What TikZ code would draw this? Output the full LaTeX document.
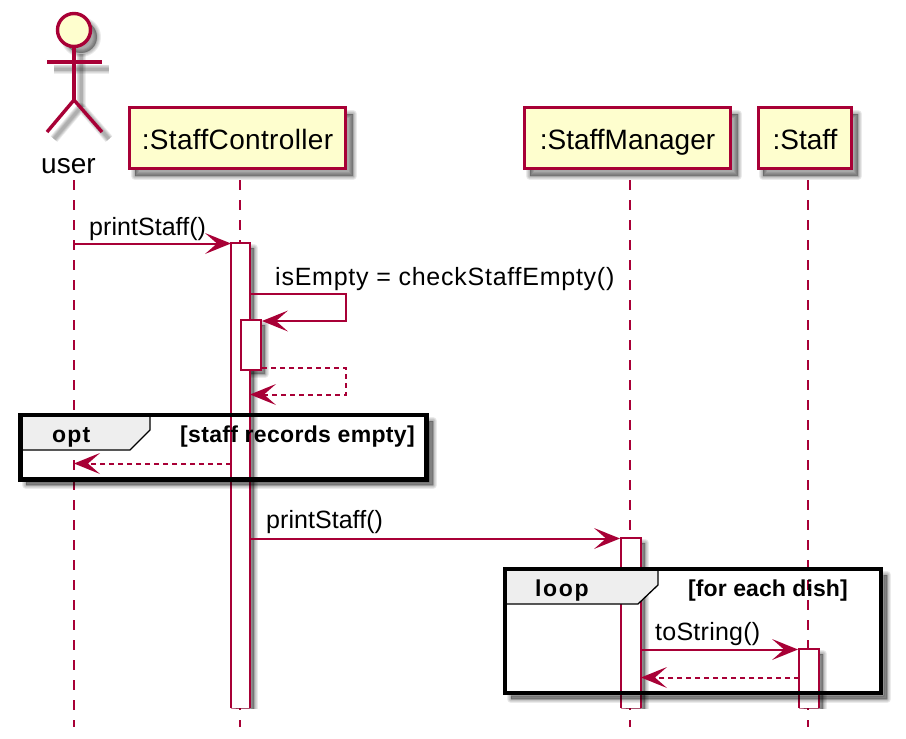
\documentclass[tikz,border=0pt]{standalone}
\usepackage{fontspec}
\setmainfont{Liberation Sans}
\usetikzlibrary{arrows.meta}
\definecolor{umlred}{HTML}{A80036}
\definecolor{umlfill}{HTML}{FEFECE}
\definecolor{tabfill}{HTML}{EEEEEE}
\tikzset{
  lifeline/.style={draw=umlred,line width=2pt,dash pattern=on 10pt off 10pt},
  partbox/.style={draw=umlred,fill=umlfill,line width=3pt,inner sep=0pt,minimum height=61pt,text height=28pt,text depth=6pt,font=\fontsize{28}{32}\selectfont},
  actorline/.style={draw=umlred,line width=3.4pt},
  actbox/.style={draw=umlred,fill=white,line width=2.2pt},
  barend/.style={draw=umlred,draw opacity=.5,line width=1pt},
  msg/.style={draw=umlred,line width=2pt,-{Stealth[length=26pt,width=21pt,inset=12pt,line width=0pt]}},
  ret/.style={msg,dash pattern=on 5pt off 4pt},
  lbl/.style={anchor=base west,inner sep=0pt,font=\fontsize{25}{30}\selectfont},
  actorlbl/.style={anchor=base west,inner sep=0pt,font=\fontsize{28}{32}\selectfont},
  grp/.style={anchor=base west,inner sep=0pt,font=\bfseries\fontsize{23}{28}\selectfont},
  frameline/.style={draw=black,line width=4.2pt,miter limit=10},
  tabshape/.style={draw=black,fill=tabfill,line width=1.3pt},
  soft/.style={fill=black,draw=black,fill opacity=.08,draw opacity=.08,line join=round},
  softl/.style={draw=black,draw opacity=.07,line join=round}
}
% soft shadows: the argument is a path
\newcommand{\softshadow}[1]{%
  \foreach \w in {8,6,4,2,0.1}{\path[soft,line width=\w pt] #1;}%
}
\newcommand{\softline}[1]{%
  \foreach \w in {9,7.5,6,4.5,3}{\path[softl,line width=\w pt] #1;}%
}
\begin{document}
\begin{tikzpicture}[x=1pt,y=-1pt]
\useasboundingbox[fill=white] (0,0) rectangle (906,739);

% shadows of the head objects
\softshadow{(81,37) circle (16)}
\softline{(54,69) -- (109,69)}
\softline{(81,54) -- (81,107)}
\softline{(54,139) -- (81,107) -- (109,139)}
\softshadow{(135,114) rectangle (353,176)}
\softshadow{(530,114) rectangle (738,176)}
\softshadow{(763,114) rectangle (858,176)}

% participants
\node[partbox,minimum width=216pt] (ctrl) at (237.5,138) {\addfontfeature{LetterSpace=1.2}:StaffController};
\node[partbox,minimum width=206pt] (mgr) at (627.5,138) {:StaffManager};
\node[partbox,minimum width=93pt] (stf) at (805,138) {:Staff};

% actor
\draw[actorline,fill=umlfill] (74,30) circle (16.5);
\coordinate (neck) at (74,47);
\coordinate (hip) at (74,100);
\coordinate (armL) at (47,62);
\coordinate (armR) at (102,62);
\coordinate (legL) at (47,132);
\coordinate (legR) at (102,132);
\draw[actorline] (neck) -- (hip);
\draw[actorline] (armL) -- (armR);
\draw[actorline] (legL) -- (hip) -- (legR);
\node[actorlbl] (user) at (41,173) {user};

% lifelines
\coordinate (uTop) at (74,180);
\coordinate (uBot) at (74,727);
\coordinate (cTop) at (240,180);
\coordinate (cBot) at (240,727);
\coordinate (mTop) at (630,180);
\coordinate (mBot) at (630,727);
\coordinate (sTop) at (808,180);
\coordinate (sBot) at (808,727);
\draw[lifeline] (uTop) -- (uBot);
\draw[lifeline] (cTop) -- (cBot);
\draw[lifeline] (mTop) -- (mBot);
\draw[lifeline] (sTop) -- (sBot);

% activation bars
\begin{scope}
\clip (0,0) rectangle (906,708);
\softshadow{(236,248) rectangle (254,720)}
\softshadow{(626,543) rectangle (645,720)}
\softshadow{(804,654) rectangle (823,720)}
\end{scope}
\softshadow{(246,325) rectangle (265,374)}
\path[fill=white] (231,243) rectangle (250,708);
\path[fill=white] (621,538) rectangle (641,708);
\path[fill=white] (799,649) rectangle (819,708);
\coordinate (a1a) at (231,708);
\coordinate (a1b) at (231,243);
\coordinate (a1c) at (250,243);
\coordinate (a1d) at (250,708);
\draw[barend] (a1a) -- (a1d);
\draw[actbox,fill=none] (a1a) -- (a1b) -- (a1c) -- (a1d);
\coordinate (a3a) at (621,708);
\coordinate (a3b) at (621,538);
\coordinate (a3c) at (641,538);
\coordinate (a3d) at (641,708);
\draw[barend] (a3a) -- (a3d);
\draw[actbox,fill=none] (a3a) -- (a3b) -- (a3c) -- (a3d);
\coordinate (a4a) at (799,708);
\coordinate (a4b) at (799,649);
\coordinate (a4c) at (819,649);
\coordinate (a4d) at (819,708);
\draw[barend] (a4a) -- (a4d);
\draw[actbox,fill=none] (a4a) -- (a4b) -- (a4c) -- (a4d);
\draw[actbox] (241,320) rectangle (261,370);

% messages
\coordinate (m1s) at (74,243.5);
\coordinate (m1e) at (231,243.5);
\draw[msg] (m1s) -- (m1e);
\coordinate (m2s) at (250,294);
\coordinate (m2a) at (346,294);
\coordinate (m2b) at (346,321);
\coordinate (m2e) at (262,321);
\draw[msg] (m2s) -- (m2a) -- (m2b) -- (m2e);
\coordinate (m3s) at (262,368);
\coordinate (m3a) at (346,368);
\coordinate (m3b) at (346,394.5);
\coordinate (m3e) at (250,394.5);
\draw[ret] (m3s) -- (m3a) -- (m3b) -- (m3e);
\coordinate (m4s) at (231,463.5);
\coordinate (m4e) at (74,463.5);
\draw[ret] (m4s) -- (m4e);
\coordinate (m5s) at (250,538.5);
\coordinate (m5e) at (620,538.5);
\draw[msg] (m5s) -- (m5e);
\coordinate (m6s) at (641,649.5);
\coordinate (m6e) at (798,649.5);
\draw[msg] (m6s) -- (m6e);
\coordinate (m7s) at (799,677.5);
\coordinate (m7e) at (641,677.5);
\draw[ret] (m7s) -- (m7e);

% opt frame
\softshadow{(429,421) -- (433,421) -- (433,485) -- (26,485) -- (26,481.5) -- (429,481.5) -- cycle}
\path[tabshape] (20.5,415) -- (150,415) -- (150,430) -- (130,450) -- (20.5,450) -- cycle;
\draw[frameline] (20.5,415) rectangle (426.5,479.5);

% loop frame
\softshadow{(883.5,575) -- (887,575) -- (887,699) -- (511,699) -- (511,695.5) -- (883.5,695.5) -- cycle}
\path[tabshape] (505,569) -- (658,569) -- (658,585) -- (638,604) -- (505,604) -- cycle;
\draw[frameline] (505,569) rectangle (881,693);

% labels
\node[lbl] (t1) at (89,235) {\addfontfeature{LetterSpace=0.2}printStaff()};
\node[lbl] (t2) at (275,285) {\addfontfeature{LetterSpace=3}isEmpty = checkStaffEmpty()};
\node[lbl] (t3) at (266,528) {\addfontfeature{LetterSpace=0.2}printStaff()};
\node[lbl] (t4) at (655,640) {\addfontfeature{LetterSpace=1}toString()};
\node[grp] (g1) at (52,442) {\addfontfeature{LetterSpace=5}opt};
\node[grp] (g2) at (180,442) {\addfontfeature{LetterSpace=1.4}[staff records empty]};
\node[grp] (g3) at (535,596) {\addfontfeature{LetterSpace=7}loop};
\node[grp] (g4) at (688,596) {\addfontfeature{LetterSpace=0.4}[for each dish]};
\end{tikzpicture}
\end{document}
